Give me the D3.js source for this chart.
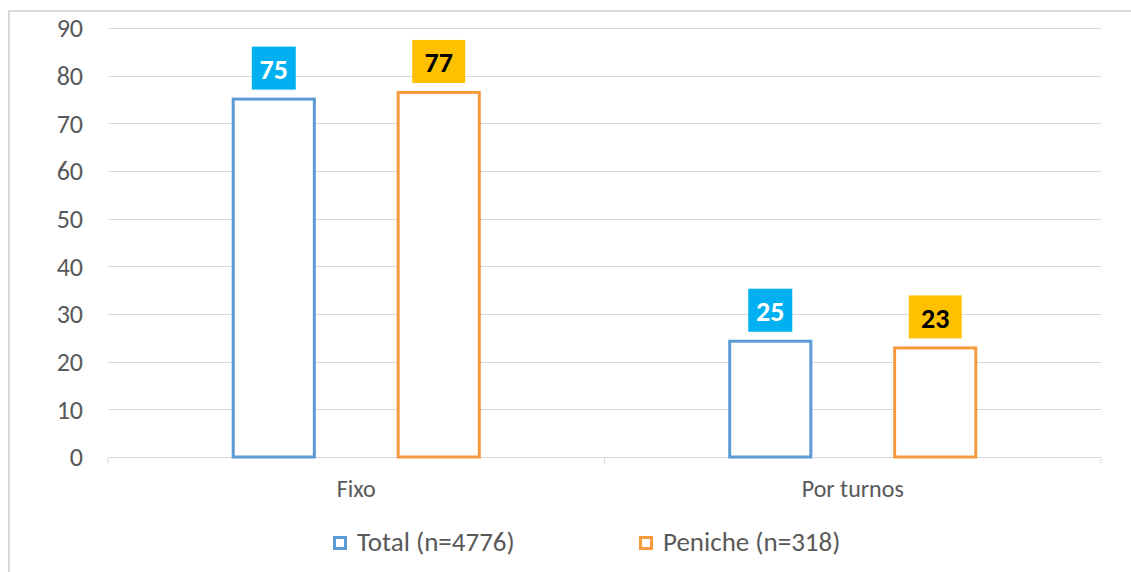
<!DOCTYPE html>
<html><head><meta charset="utf-8">
<script src="https://cdn.jsdelivr.net/npm/d3@7"></script>
<style>
html,body{margin:0;padding:0;background:#fff;}
svg{display:block;font-family:Carlito,"Liberation Sans",Arial,sans-serif;}
</style></head>
<body><svg id="c" width="1131" height="572"></svg>
<script>
const categories = ["Fixo", "Por turnos"];
const seriesNames = ["Total (n=4776)", "Peniche (n=318)"];
const totalValues = [75.4, 24.6];
const penicheValues = [76.8, 23.2];
const yTicks = [0, 10, 20, 30, 40, 50, 60, 70, 80, 90];

(function(){
const strokeColors = ["#5B9BD5", "#F79A3E"];
const labelBg = ["#00B0F0", "#FFC000"];
const labelFg = ["#ffffff", "#000000"];
const labelW = [44, 53];
const FONT = 'Carlito,"Liberation Sans",Arial,sans-serif';

const svg = d3.select("#c");
const W = 1131, H = 572;
const pLeft = 108, pRight = 1101, pTop = 28, pBottom = 457;

// outer frame
svg.append("path").attr("d", `M9,${H} L9,11 L${W},11`).attr("fill","none")
  .attr("stroke","#d9d9d9").attr("stroke-width",2);

const x0 = d3.scaleBand().domain(categories).range([pLeft, pRight]).paddingInner(0).paddingOuter(0);
const x1 = d3.scaleBand().domain(seriesNames).range([0, x0.bandwidth()]).paddingInner(0.49).paddingOuter(0.75);
const y = d3.scaleLinear().domain([0, 90]).range([pBottom, pTop]);

// gridlines
svg.append("g").selectAll("line").data(yTicks.filter(d=>d>0)).join("line")
  .attr("x1", pLeft).attr("x2", pRight)
  .attr("y1", d=>Math.round(y(d))+0.5).attr("y2", d=>Math.round(y(d))+0.5)
  .attr("stroke","#d9d9d9").attr("stroke-width",1);

// y axis labels
const yAxis = d3.axisLeft(y).tickValues(yTicks).tickSize(0).tickPadding(0);
const gy = svg.append("g").attr("transform",`translate(83,0)`).call(yAxis);
gy.select(".domain").remove();
gy.selectAll("text").attr("fill","#595959").attr("dy","0.34em").style("font-size","26px").style("font-family",FONT);

// x axis
const xAxis = d3.axisBottom(x0).tickSize(0);
const gx = svg.append("g").attr("transform",`translate(0,${pBottom+0.5})`).call(xAxis);
gx.select(".domain").attr("stroke","#d9d9d9").attr("d", `M${pLeft},6V0H${pRight}V6`);
gx.selectAll("text").attr("fill","#595959").attr("dy", 0).attr("y", 39.5).style("font-size","24px").style("font-family",FONT);
gx.append("line").attr("x1", x0("Por turnos")).attr("x2", x0("Por turnos"))
  .attr("y1",0).attr("y2",6).attr("stroke","#d9d9d9");

// data
const rows = categories.map((c,i)=>({cat:c, vals:[totalValues[i], penicheValues[i]]}));
const groups = svg.append("g").selectAll("g").data(rows).join("g")
  .attr("transform", d=>`translate(${x0(d.cat)},0)`);

const items = groups.selectAll("g.item").data(d=>d.vals.map((v,si)=>({v, si, s:seriesNames[si]})))
  .join("g").attr("class","item");

items.append("rect")
  .attr("x", d=>x1(d.s)+1.5).attr("width", x1.bandwidth()-3)
  .attr("y", d=>y(d.v)+1.5).attr("height", d=>pBottom - y(d.v)-1.5)
  .attr("fill","#ffffff").attr("stroke", d=>strokeColors[d.si]).attr("stroke-width",3);

items.append("rect")
  .attr("x", d=>x1(d.s)+x1.bandwidth()/2 - labelW[d.si]/2)
  .attr("width", d=>labelW[d.si])
  .attr("y", d=>y(d.v)-51).attr("height", 43)
  .attr("fill", d=>labelBg[d.si]);

items.append("text")
  .attr("x", d=>x1(d.s)+x1.bandwidth()/2)
  .attr("y", d=>y(d.v)-18.5)
  .attr("text-anchor","middle")
  .attr("fill", d=>labelFg[d.si])
  .style("font-size","28px").style("font-weight","bold")
  .text(d=>d3.format(".0f")(d.v));

// legend
const legendX = [333, 639];
const lg = svg.append("g").selectAll("g").data(seriesNames).join("g")
  .attr("transform",(d,i)=>`translate(${legendX[i]},536)`);
lg.append("rect").attr("x",1.5).attr("y",1.5).attr("width",11).attr("height",11)
  .attr("fill","#fff").attr("stroke",(d,i)=>strokeColors[i]).attr("stroke-width",3);
lg.append("text").attr("x",24).attr("y",15).attr("fill","#595959").style("font-size","27px").text(d=>d);
})();
</script></body></html>
